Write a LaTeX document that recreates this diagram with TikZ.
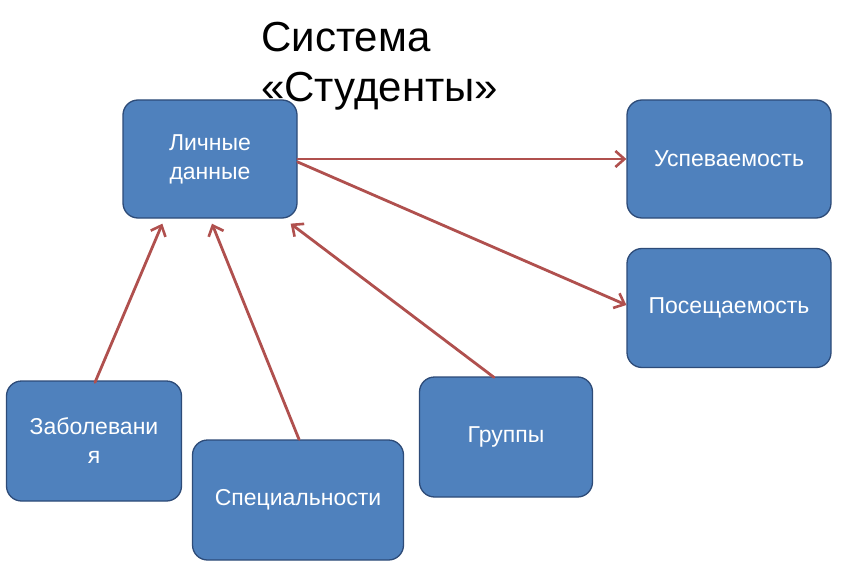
\documentclass[tikz,border=0pt]{standalone}
\usepackage{fontspec}
\setmainfont{Liberation Sans}
\usetikzlibrary{arrows.meta,calc}
\definecolor{boxfill}{RGB}{79,129,189}
\definecolor{boxline}{RGB}{45,75,120}
\definecolor{arrowred}{RGB}{176,80,78}
\begin{document}
\begin{tikzpicture}[x=1pt,y=-1pt,
  box/.style={draw=boxline, line width=1.3pt, fill=boxfill, rounded corners=15pt,
    text=white, font=\fontsize{23}{29}\selectfont, align=center, inner sep=0pt},
  link/.style={draw=arrowred, line width=2.8pt, line cap=round,
    -{Straight Barb[length=9pt,width=16pt,line width=2.6pt]}},
  title/.style={font=\fontsize{42}{50}\selectfont, align=left, anchor=north west, inner sep=0pt}]
\useasboundingbox (0,0) rectangle (856,572);
\fill[white] (0,0) rectangle (856,572);
\node[title] (ttl) at (261,22) {Система\\«Студенты»};
\node[box, minimum width=174pt, minimum height=118pt] (lich) at (210,159) {Личные\\данные};
\node[box, minimum width=204pt, minimum height=118pt] (usp) at (729,159) {Успеваемость};
\node[box, minimum width=204pt, minimum height=119pt] (pos) at (729,308) {Посещаемость};
\node[box, minimum width=175pt, minimum height=120pt] (zab) at (94,441) {Заболевани\\я};
\node[box, minimum width=211pt, minimum height=120pt] (spec) at (298,500) {Специальности};
\node[box, minimum width=173pt, minimum height=120pt] (gr) at (506,437) {Группы};
\draw[link] (lich.east) -- (usp.west);
\draw[link] ($(lich.east)+(0,3)$) -- ($(pos.west)+(0,-3)$);
\draw[link] ($(zab.north)+(1,2)$) -- ($(lich.south west)+(40,5)$);
\draw[link] ($(spec.north)+(1,0)$) -- ($(lich.south)+(2,5)$);
\draw[link] ($(gr.north)+(-12,1)$) -- ($(lich.south east)+(-7,5)$);
\end{tikzpicture}
\end{document}
